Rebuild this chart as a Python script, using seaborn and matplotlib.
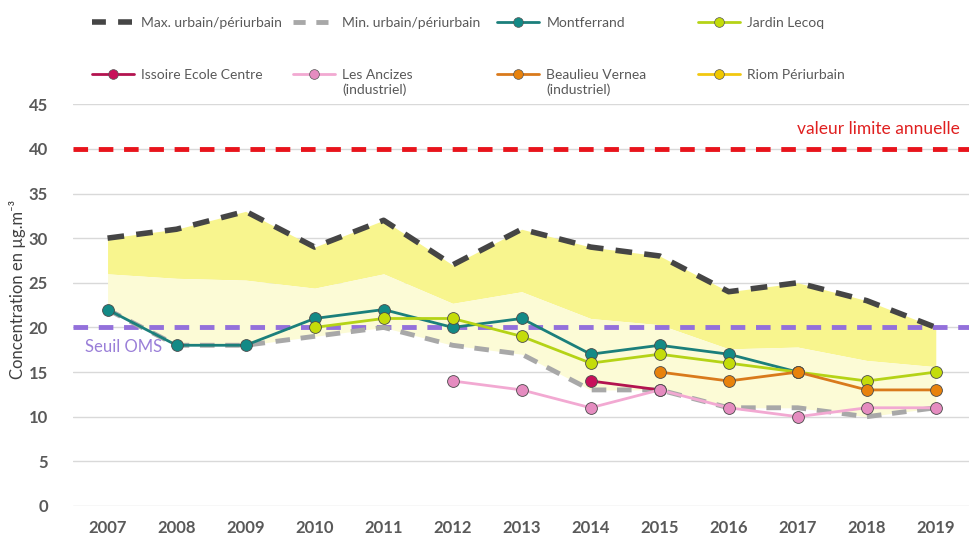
import numpy as np
import seaborn as sns
import matplotlib.pyplot as plt
from matplotlib.lines import Line2D
from matplotlib.legend_handler import HandlerLine2D

# Data
years = list(range(2007, 2020))
max_urb = [30, 31, 33, 29, 32, 27, 31, 29, 28, 24, 25, 23, 20]
min_urb = [22, 18, 18, 19, 20, 18, 17, 13, 13, 11, 11, 10, 11]
band_mid = [26, 25.5, 25.3, 24.4, 26, 22.7, 24, 21, 20.3, 17.6, 17.8, 16.3, 15.6]

montferrand = [22, 18, 18, 21, 22, 20, 21, 17, 18, 17, 15, np.nan, np.nan]
jardin_lecoq = [np.nan, np.nan, np.nan, 20, 21, 21, 19, 16, 17, 16, 15, 14, 15]
issoire = [np.nan] * 7 + [14, 13] + [np.nan] * 4
ancizes = [np.nan] * 5 + [14, 13, 11, 13, 11, 10, 11, 11]
beaulieu = [np.nan] * 8 + [15, 14, 15, 13, 13]
riom = [np.nan] * 13

valeur_limite = 40
seuil_oms = 20

stations = [
    ("Montferrand", montferrand, "#1b7f7b", "#138a86"),
    ("Jardin Lecoq", jardin_lecoq, "#b5d316", "#c4dc0a"),
    ("Issoire Ecole Centre", issoire, "#b3134f", "#c8105a"),
    ("Les Ancizes\n(industriel)", ancizes, "#f2a9d2", "#e58cc0"),
    ("Beaulieu Vernea\n(industriel)", beaulieu, "#d97a1c", "#e8820c"),
    ("Riom Périurbain", riom, "#f2c80f", "#f0c800"),
]


class UpHandler(HandlerLine2D):
    # keeps the legend line level with the first line of a 2-line label
    def create_artists(self, legend, orig_handle, xdescent, ydescent,
                       width, height, fontsize, trans):
        return super().create_artists(legend, orig_handle, xdescent,
                                      ydescent - 1.2 * fontsize, width, height,
                                      fontsize, trans)


sns.set_theme(style="white")
plt.rcParams['font.family'] = ['Lato', 'DejaVu Sans']

x = np.arange(len(years))
fig = plt.figure(figsize=(9.7, 5.4), dpi=100)
ax = fig.add_axes([0.0753, 0.063, 0.925, 0.744])

# yellow band between min and max
ax.fill_between(x, band_mid, max_urb, color="#f8f58e", lw=0, zorder=1)
ax.fill_between(x, min_urb, band_mid, color="#fcfbd6", lw=0, zorder=1)

ax.axhline(valeur_limite, color="#e8141c", lw=3.5, ls=(0, (3, 2.2)), zorder=3)
ax.axhline(seuil_oms, color="#9370db", lw=3.5, ls=(0, (3, 2.2)), zorder=3)

sns.lineplot(x=x, y=max_urb, ax=ax, color="#454545", lw=4, zorder=4)
ax.lines[-1].set_linestyle((0, (3, 2.2)))
sns.lineplot(x=x, y=min_urb, ax=ax, color="#a8a8a8", lw=3.5, zorder=4)
ax.lines[-1].set_linestyle((0, (3, 2.2)))

handles = [
    Line2D([], [], color="#454545", lw=4, ls=(0, (2.5, 2.2))),
    Line2D([], [], color="#a8a8a8", lw=3.5, ls=(0, (2.5, 2.2))),
]
labels = ["Max. urbain/périurbain", "Min. urbain/périurbain"]

for name, vals, lc, mc in stations:
    vals = np.array(vals, dtype=float)
    if np.isfinite(vals).any():
        ok = np.isfinite(vals)
        sns.lineplot(x=x[ok], y=vals[ok], ax=ax, color=lc, lw=2, zorder=5,
                     marker="o", markersize=8.5, markerfacecolor=mc,
                     markeredgecolor="#4a4a4a", markeredgewidth=0.6)
    handles.append(Line2D([], [], color=lc, lw=2, marker="o", markersize=7,
                          markerfacecolor=mc, markeredgecolor="#555555",
                          markeredgewidth=0.5))
    labels.append(name)

# one legend per column: (row 1, row 2)
columns = [(0, 4), (1, 5), (2, 6), (3, 7)]
text_x = [142, 343, 547, 748]
for (i, j), tx in zip(columns, text_x):
    hmap = {}
    if "\n" in labels[j]:
        hmap[handles[j]] = UpHandler()
    fig.legend([handles[i], handles[j]], [labels[i], labels[j]],
               loc="upper left", bbox_to_anchor=((tx - 50) / 970, 0.968),
               frameon=False, fontsize=10, handlelength=3.0,
               handletextpad=0.55, labelspacing=2.85, borderpad=0,
               borderaxespad=0, labelcolor="#595959", handler_map=hmap)

ax.text(12.35, valeur_limite + 1.3, "valeur limite annuelle", color="#e02020",
        fontsize=12.5, ha="right", va="bottom")
ax.text(-0.33, seuil_oms - 1.3, "Seuil OMS", color="#9a7fd8",
        fontsize=12, ha="left", va="top")

ax.set_xlim(-0.5, len(years) - 0.5)
ax.set_ylim(0, 45)
ax.set_yticks(range(0, 46, 5))
ax.set_xticks(x)
ax.set_xticklabels(years)
ax.tick_params(axis="both", length=0, labelsize=12, colors="#595959")
ax.tick_params(axis="y", pad=18)
ax.tick_params(axis="x", pad=10)
for lab in ax.get_xticklabels() + ax.get_yticklabels():
    lab.set_fontweight("bold")
ax.yaxis.grid(True, color="#d9d9d9", lw=1)
ax.set_axisbelow(True)
for s in ax.spines.values():
    s.set_visible(False)
ax.set_ylabel("Concentration en µg.m⁻³", fontsize=12, color="#404040")
ax.yaxis.set_label_coords(-0.052, 0.54)

fig.savefig("out.png", dpi=100)
